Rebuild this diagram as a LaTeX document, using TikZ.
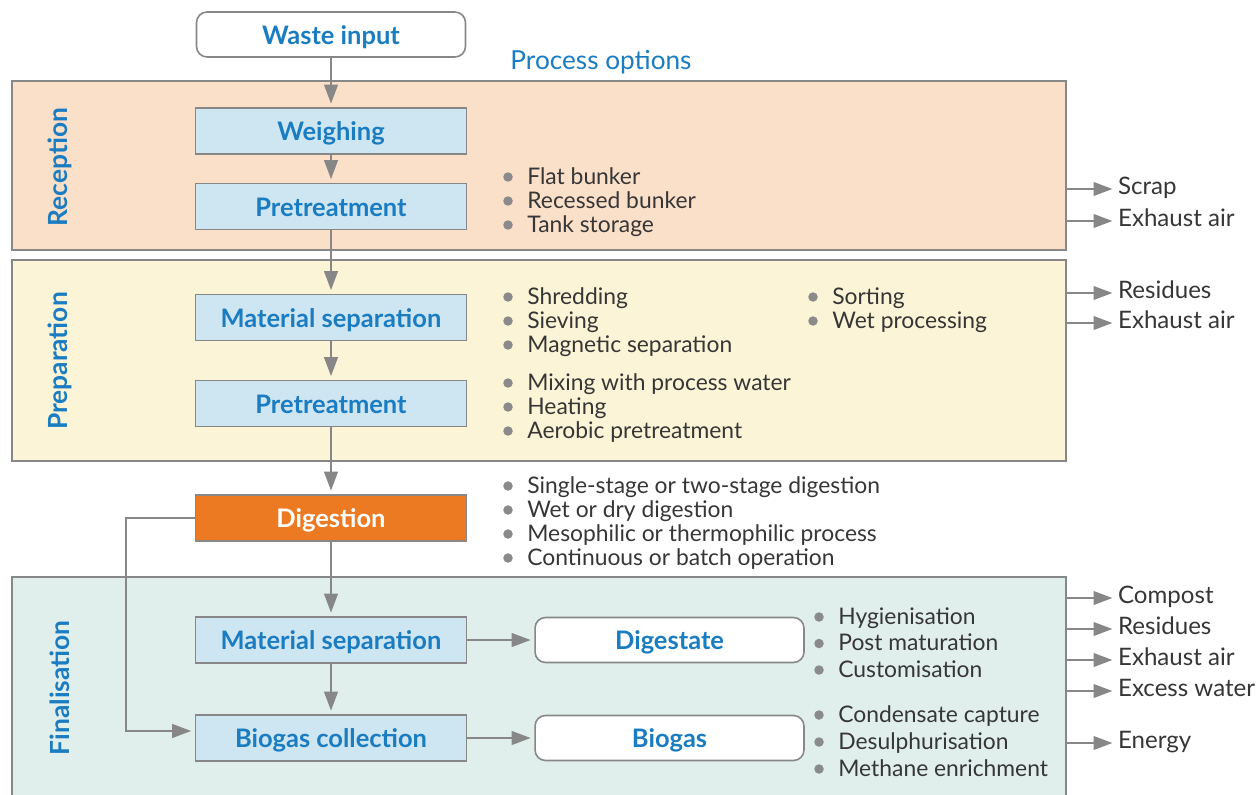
\documentclass[tikz,border=0pt]{standalone}
\usepackage{fontspec}
\setmainfont{Lato}
\usetikzlibrary{positioning, calc, arrows.meta}

\definecolor{bluetext}{HTML}{1A7CC1}
\definecolor{linegray}{HTML}{878787}
\definecolor{bulgray}{HTML}{8A8A8A}
\definecolor{darktext}{HTML}{363636}
\definecolor{peach}{HTML}{FADFC9}
\definecolor{cream}{HTML}{FCF4D6}
\definecolor{mint}{HTML}{E1EFEC}
\definecolor{boxblue}{HTML}{CEE5F2}
\definecolor{digorange}{HTML}{EB7A22}

\tikzset{
    box/.style={draw=linegray, line width=0.9pt, fill=boxblue, minimum width=5.42cm,
        minimum height=0.92cm, text height=2.2ex, text depth=0pt, text=bluetext,
        font=\bfseries\fontsize{14.5}{17}\selectfont},
    rbox/.style={box, fill=white, rounded corners=6pt, minimum width=5.38cm, minimum height=0.9cm},
    panel/.style={draw=linegray, line width=1.2pt, minimum width=21.08cm},
    phase/.style={rotate=90, text=bluetext, font=\bfseries\fontsize{15}{18}\selectfont},
    arr/.style={draw=linegray, line width=1.4pt, -{Triangle[length=0.38cm,width=0.27cm]}, shorten >=2pt},
    opt/.style={anchor=west, inner sep=0pt, text height=1.5ex, text depth=.35ex,
        text=darktext, font=\fontsize{13}{15}\selectfont},
    outp/.style={opt, inner sep=1pt, font=\fontsize{13.7}{16}\selectfont}
}

% bullet list: name, x, y of first line, line step, items
\newcommand{\optlist}[5]{%
    \foreach \t [count=\i from 0] in {#5} {
        \fill[bulgray] (#2,#3+#4*\i) circle[radius=0.095cm];
        \node[opt] (#1\i) at (#2+19,#3+2+#4*\i) {\t};
    }}

\begin{document}
\begin{tikzpicture}[x=0.02cm, y=-0.02cm]
    \useasboundingbox (0,0) rectangle (1256,794);

    % phases
    \node[panel, fill=peach, minimum height=3.38cm] (rec) at (539,165.5) {};
    \node[panel, fill=cream, minimum height=4.02cm] (prep) at (539,360.5) {};
    \node[panel, fill=mint, minimum height=4.6cm] (fin) at (539,692) {};
    \node[phase] (recL) at (60,167) {Reception};
    \node[phase] (prepL) at (60,361) {Preparation};
    \node[phase] (finL) at (60,688) {Finalisation};

    % main chain
    \node[rbox] (waste) at (331,34.5) {Waste input};
    \node[box] (weigh) at (331,131) {Weighing};
    \node[box] (pre1) at (331,206.5) {Pretreatment};
    \node[box] (sep1) at (331,317.5) {Material separation};
    \node[box] (pre2) at (331,403.5) {Pretreatment};
    \node[box, fill=digorange, text=white] (dig) at (331,518) {Digestion};
    \node[box] (sep2) at (331,640) {Material separation};
    \node[box] (bgc) at (331,738) {Biogas collection};
    \node[rbox] (dgst) [right=1.34cm of sep2] {Digestate};
    \node[rbox] (bgas) [right=1.34cm of bgc] {Biogas};

    \draw[arr] (waste) -- (weigh);
    \draw[arr] (weigh) -- (pre1);
    \draw[arr] (pre1) -- (sep1);
    \draw[arr] (sep1) -- (pre2);
    \draw[arr] (pre2) -- (dig);
    \draw[arr] (dig) -- (sep2);
    \draw[arr] (sep2) -- (bgc);
    \draw[arr] (sep2) -- (dgst);
    \draw[arr] (bgc) -- (bgas);
    \draw[arr] (dig.west) -- ++(-69,0) |- ([yshift=4pt]bgc.west);

    % process options
    \node[text=bluetext, font=\fontsize{14.9}{18}\selectfont] (popt) at (601,62) {Process options};
    \optlist{ra}{508}{177}{24}{Flat bunker, Recessed bunker, Tank storage}
    \optlist{pa}{508}{297}{24}{Shredding, Sieving, Magnetic separation}
    \optlist{pb}{813}{297}{24}{Sorting, Wet processing}
    \optlist{pc}{508}{383}{24}{Mixing with process water, Heating, Aerobic pretreatment}
    \optlist{da}{508}{486}{24}{Single-stage or two-stage digestion, Wet or dry digestion,
        Mesophilic or thermophilic process, Continuous or batch operation}
    \optlist{fa}{819}{617}{26.5}{Hygienisation, Post maturation, Customisation}
    \optlist{fb}{819}{715}{27}{Condensate capture, Desulphurisation, Methane enrichment}

    % outputs
    \foreach \t/\y/\p in {Scrap/189/rec, Exhaust air/221/rec, Residues/293/prep,
        Exhaust air/323/prep, Compost/598/fin, Residues/629/fin, Exhaust air/660/fin,
        Excess water/691/fin, Energy/743/fin} {
        \node[outp] (out\y) at (1116,\y) {\t};
        \draw[arr] (\p.east |- out\y.west) -- (out\y.west);
    }
\end{tikzpicture}
\end{document}
